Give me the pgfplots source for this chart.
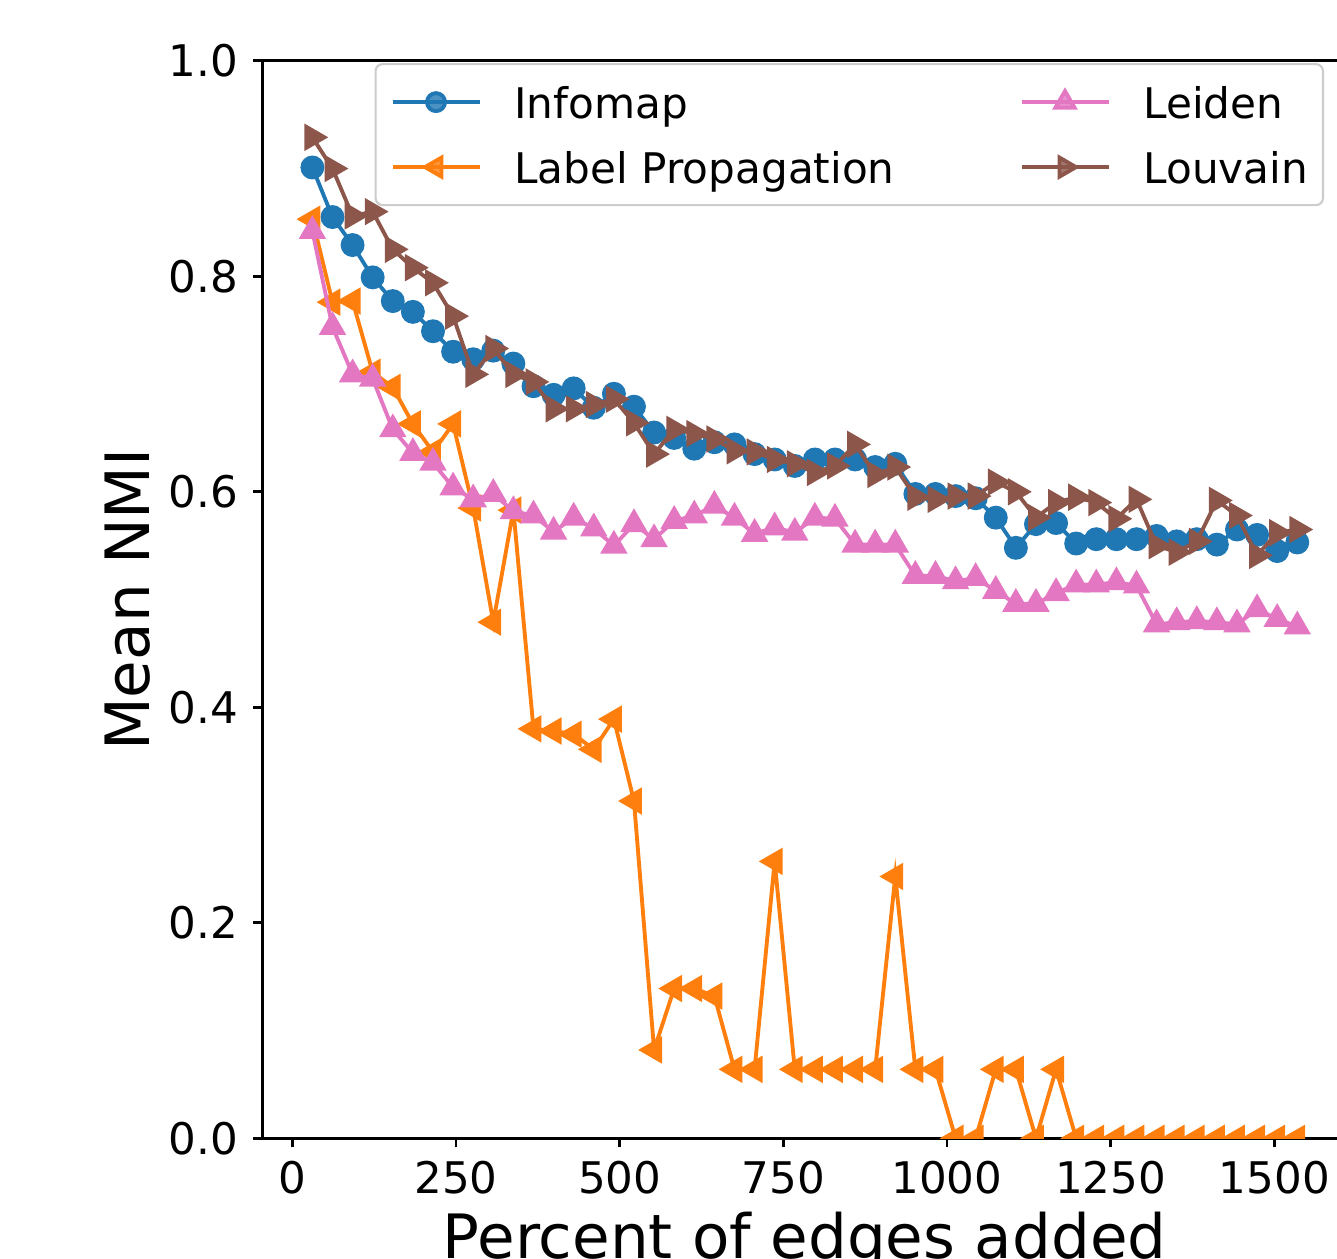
\documentclass[border=0pt]{standalone}
\usepackage{pgfplots}
\pgfplotsset{compat=1.18}
\usepackage{pgfplotstable}
\usepackage{fontspec}
\setmainfont{DejaVu Sans}
\definecolor{cblue}{HTML}{1F77B4}
\definecolor{corange}{HTML}{FF7F0E}
\definecolor{cpink}{HTML}{E377C2}
\definecolor{cbrown}{HTML}{8C564B}

\pgfplotstableread{
x      inf   lp    lei   lou
30.7   0.901 0.853 0.842 0.929
61.4   0.855 0.776 0.753 0.900
92.1   0.829 0.777 0.709 0.856
122.8  0.799 0.711 0.705 0.860
153.5  0.777 0.697 0.658 0.825
184.2  0.767 0.663 0.636 0.808
214.9  0.749 0.637 0.627 0.794
245.6  0.730 0.663 0.604 0.763
276.3  0.723 0.585 0.593 0.709
307.0  0.731 0.479 0.598 0.733
337.7  0.719 0.583 0.582 0.709
368.4  0.698 0.380 0.578 0.702
399.1  0.690 0.378 0.563 0.677
429.8  0.696 0.375 0.576 0.677
460.5  0.678 0.361 0.566 0.681
491.2  0.691 0.389 0.550 0.686
521.9  0.679 0.313 0.570 0.664
552.6  0.655 0.082 0.556 0.635
583.3  0.650 0.139 0.573 0.658
614.0  0.640 0.139 0.578 0.654
644.7  0.646 0.132 0.587 0.649
675.4  0.644 0.064 0.576 0.638
706.1  0.635 0.064 0.561 0.637
736.8  0.630 0.257 0.567 0.630
767.5  0.624 0.064 0.562 0.626
798.2  0.630 0.064 0.576 0.618
828.9  0.630 0.064 0.575 0.624
859.6  0.630 0.064 0.551 0.644
890.3  0.623 0.064 0.551 0.616
921.0  0.626 0.243 0.551 0.623
951.7  0.598 0.064 0.522 0.595
982.4  0.598 0.064 0.522 0.593
1013.1 0.596 0.000 0.517 0.596
1043.8 0.594 0.000 0.520 0.596
1074.5 0.576 0.064 0.508 0.609
1105.2 0.548 0.064 0.496 0.600
1135.9 0.570 0.000 0.496 0.576
1166.6 0.571 0.064 0.506 0.590
1197.3 0.552 0.000 0.514 0.595
1228.0 0.556 0.000 0.514 0.590
1258.7 0.556 0.000 0.516 0.575
1289.4 0.556 0.000 0.513 0.593
1320.1 0.559 0.000 0.477 0.550
1350.8 0.554 0.000 0.479 0.544
1381.5 0.556 0.000 0.480 0.554
1412.2 0.551 0.000 0.479 0.592
1442.9 0.565 0.000 0.477 0.578
1473.6 0.560 0.000 0.491 0.541
1504.3 0.545 0.000 0.482 0.562
1535.0 0.553 0.000 0.475 0.565
}\nmidata

\begin{document}
\begin{tikzpicture}
\begin{axis}[
  scale only axis,
  width=10.842cm, height=10.775cm,
  xmin=-45.5, xmax=1610.5, ymin=0, ymax=1,
  xtick={0,250,500,750,1000,1250,1500},
  ytick={0,0.2,0.4,0.6,0.8,1.0},
  scaled x ticks=false, scaled y ticks=false,
  xticklabel style={/pgf/number format/1000 sep={}},
  yticklabel style={/pgf/number format/fixed, /pgf/number format/fixed zerofill, /pgf/number format/precision=1},
  /pgf/number format/assume math mode=true,
  tick pos=left,
  tick align=outside,
  major tick length=0.09cm,
  tick style={line width=0.8pt, black},
  axis line style={line width=0.8pt},
  ticklabel style={font=\fontsize{12.4}{15}\selectfont},
  xticklabel style={anchor=north, inner sep=0pt, yshift=-0.13cm},
  yticklabel style={anchor=east, inner sep=0pt, xshift=-0.15cm},
  xlabel={Percent of edges added},
  ylabel={Mean NMI},
  xlabel style={at={(axis description cs:0.5,-0.1111)}, anchor=base, inner sep=0pt, font=\fontsize{17.4}{20}\selectfont},
  ylabel style={at={(axis description cs:-0.1038,0.5)}, anchor=base, inner sep=0pt, font=\fontsize{17.4}{20}\selectfont},
  clip marker paths=true,
  every axis plot/.append style={line width=1.1pt},
  legend columns=2,
  legend cell align=left,
  legend image code/.code={\draw[mark repeat=2,mark phase=2] plot coordinates {(0cm,0cm) (0.435cm,0cm) (0.87cm,0cm)};},
  legend style={
    at={(axis description cs:0.9791,0.9979)}, anchor=north east,
    draw=black!20, line width=0.6pt, rounded corners=0.07cm, fill=white, fill opacity=0.8, text opacity=1,
    inner xsep=0.15cm, inner ysep=0.09cm,
    row sep=0.07cm,
    font=\fontsize{12}{14}\selectfont,
    nodes={inner sep=0pt, text height=0.45cm, text depth=0.13cm},
    /tikz/every odd column/.append style={column sep=0.33cm},
    /tikz/every even column/.append style={column sep=1.25cm},
  },
]
\addplot[cblue, mark=*, mark size=0.1cm, forget plot] table[x=x, y=inf] {\nmidata};
\addplot[corange, mark=triangle*, mark size=0.12cm, mark options={rotate=90}, forget plot] table[x=x, y=lp] {\nmidata};
\addplot[cpink, mark=triangle*, mark size=0.12cm, forget plot] table[x=x, y=lei] {\nmidata};
\addplot[cbrown, mark=triangle*, mark size=0.12cm, mark options={rotate=-90}, forget plot] table[x=x, y=lou] {\nmidata};

\addlegendimage{cblue, line width=1.1pt, mark=*, mark size=0.09cm}
\addlegendentry{Infomap}
\addlegendimage{cpink, line width=1.1pt, mark=triangle*, mark size=0.11cm}
\addlegendentry{Leiden}
\addlegendimage{corange, line width=1.1pt, mark=triangle*, mark size=0.11cm, mark options={rotate=90}}
\addlegendentry{Label Propagation}
\addlegendimage{cbrown, line width=1.1pt, mark=triangle*, mark size=0.11cm, mark options={rotate=-90}}
\addlegendentry{Louvain}
\end{axis}
\pgfresetboundingbox
\useasboundingbox (-2.625,-1.197) rectangle (10.745,11.383);
\end{tikzpicture}
\end{document}
